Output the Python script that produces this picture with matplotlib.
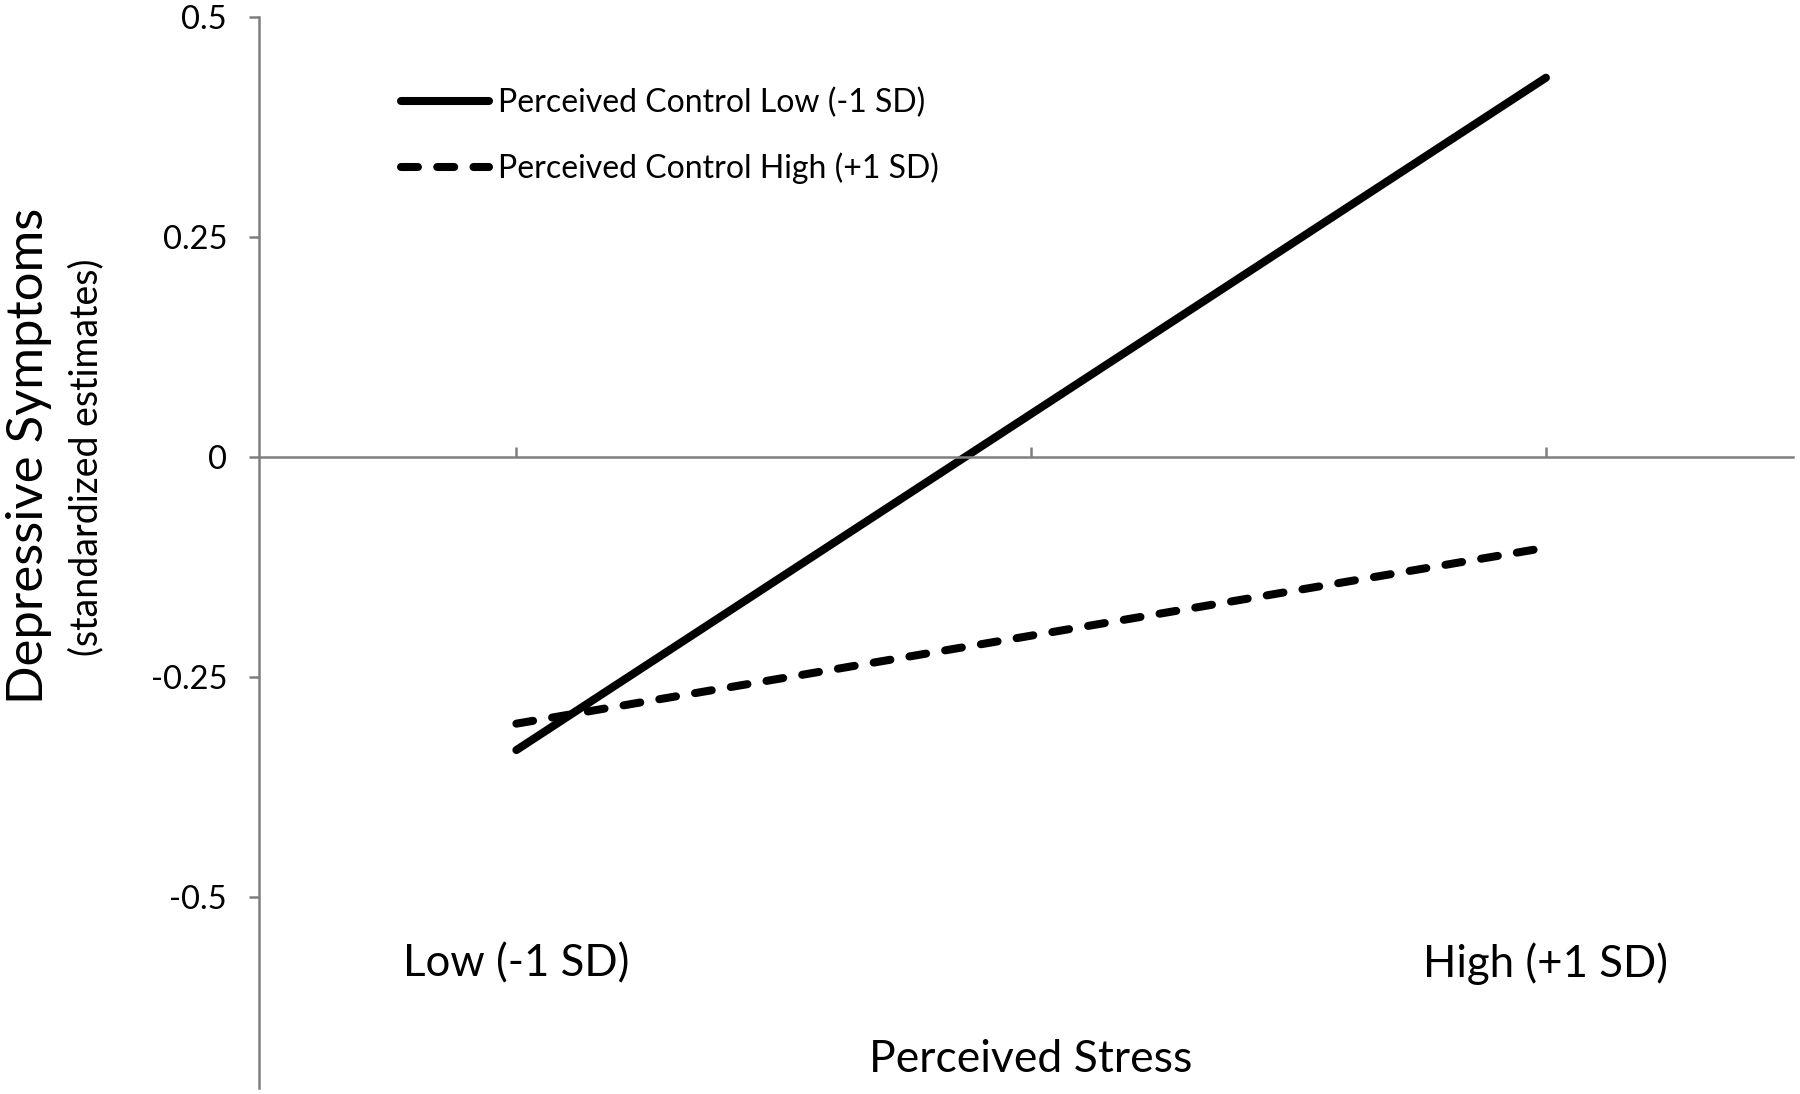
import matplotlib
matplotlib.use("Agg")
import matplotlib.pyplot as plt
import numpy as np

# stress levels (-1 SD, +1 SD) and simple-slope estimates
stress_levels = [-1, 1]
stress_labels = ["Low (-1 SD)", "High (+1 SD)"]
control_low = [-0.333, 0.431]
control_high = [-0.303, -0.103]
series_names = ["Perceived Control Low (-1 SD)", "Perceived Control High (+1 SD)"]
y_ticks = [-0.5, -0.25, 0, 0.25, 0.5]
y_tick_labels = ["-0.5", "-0.25", "0", "0.25", "0.5"]

plt.rcParams['font.family'] = ['Lato', 'DejaVu Sans']
axis_color = "#7f7f7f"

fig = plt.figure(figsize=(18, 10.94), dpi=100)
ax = fig.add_axes([259 / 1800, 1 - 1088 / 1094, (1793 - 259) / 1800, (1088 - 17) / 1094])

ax.plot(stress_levels, control_low, color="black", lw=5.8, solid_capstyle="round",
        label=series_names[0])
ax.plot(stress_levels, control_high, color="black", lw=5.8, linestyle=(0, (2.1, 2.4)),
        dash_capstyle="round", label=series_names[1])

ax.set_xlim(-1.5, 1.48)
ax.set_ylim(-0.717, 0.5)

for s in ["top", "right"]:
    ax.spines[s].set_visible(False)
ax.spines["bottom"].set_position(("data", 0))
for s in ["left", "bottom"]:
    ax.spines[s].set_color(axis_color)
    ax.spines[s].set_linewidth(1.8)

ax.set_xticks([-1, 0, 1])
ax.set_xticklabels([])
ax.tick_params(axis="x", direction="in", length=7, width=1.8, color=axis_color)
ax.set_yticks(y_ticks)
ax.set_yticklabels(y_tick_labels)
ax.tick_params(axis="y", direction="out", length=7, width=1.8, color=axis_color,
               labelsize=23.5, pad=16)

# category labels under the plot
for x, lab in zip(stress_levels, stress_labels):
    ax.text(x, 0.1157, lab, transform=ax.get_xaxis_transform(), ha="center", va="center",
            fontsize=31.5)
ax.text(0, 0.027, "Perceived Stress", transform=ax.get_xaxis_transform(),
        ha="center", va="center", fontsize=32)

fig.text(29 / 1800, 1 - 456 / 1094, "Depressive Symptoms", rotation=90, ha="center",
         va="center", fontsize=36.5)
fig.text(86 / 1800, 1 - 457 / 1094, "(standardized estimates)", rotation=90, ha="center",
         va="center", fontsize=27)

ax.legend(loc="upper left", bbox_to_anchor=(401 / 1800, 1 - 88 / 1094),
          bbox_transform=fig.transFigure, frameon=False, fontsize=23,
          handlelength=2.75, handletextpad=0.28, labelspacing=1.06, borderpad=0,
          borderaxespad=0)

fig.savefig("out.png", dpi=100, facecolor="white")
